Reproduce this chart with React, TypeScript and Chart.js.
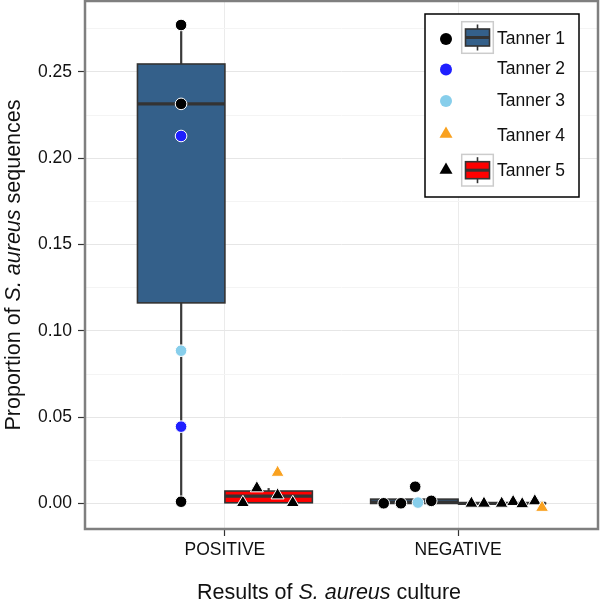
import React, { useEffect, useRef } from "react";
import { Chart, registerables, ScatterController } from "chart.js";

Chart.register(...registerables);
// keep the panel edges where the reference has them (no auto padding for point overflow)
(ScatterController as any).prototype.getMaxOverflow = function () {
  return 0;
};

// ---------- data ----------
const categories = ["POSITIVE", "NEGATIVE"];
const yTickValues = [0, 0.025, 0.05, 0.075, 0.1, 0.125, 0.15, 0.175, 0.2, 0.225, 0.25, 0.275];
const yMajorLabels = ["0.00", "0.05", "0.10", "0.15", "0.20", "0.25"];

const tannerNames = ["Tanner 1", "Tanner 2", "Tanner 3", "Tanner 4", "Tanner 5"];
const tannerColors = ["#000000", "#1f1fff", "#87ceeb", "#f9a11f", "#000000"];
const tannerShapes = ["circle", "circle", "circle", "triangle", "triangle"];

// point positions (x in category units: 1 = POSITIVE, 2 = NEGATIVE, jittered/dodged)
const tanner1X = [0.812, 0.812, 0.812, 1.681, 1.755, 1.816, 1.885];
const tanner1Y = [0.2772, 0.2315, 0.001, 0.0001, 0.0001, 0.0097, 0.0015];
const tanner2X = [0.812, 0.812];
const tanner2Y = [0.2129, 0.0445];
const tanner3X = [0.812, 1.828];
const tanner3Y = [0.0885, 0.0005];
const tanner4X = [1.226, 2.36];
const tanner4Y = [0.0179, -0.0024];
const tanner5X = [1.077, 1.137, 1.226, 1.291, 2.057, 2.111, 2.187, 2.236, 2.275, 2.329];
const tanner5Y = [0.0004, 0.0089, 0.0048, 0.0004, 0.0, 0.0, 0.0, 0.001, -0.0003, 0.0014];

// boxplots
const boxCategory = [0, 0, 1, 1];
const boxGroup = [0, 1, 0, 1]; // 0 -> Tanner 1 fill (left), 1 -> Tanner 5 fill (right)
const boxLow = [0.001, 0.0004, 0.0, 0.0];
const boxQ1 = [0.1162, 0.0004, 0.0, 0.0];
const boxMedian = [0.2315, 0.0042, 0.0008, 0.0001];
const boxQ3 = [0.2546, 0.0072, 0.0025, 0.0002];
const boxHigh = [0.2772, 0.0089, 0.0025, 0.0002];
const boxFills = ["#34608a", "#ff0000"];
const boxLegendTanner = [0, 4];

const FONT = "'Liberation Sans', Arial, Helvetica, sans-serif";
const TEXT = "#111111";

const pointX = [tanner1X, tanner2X, tanner3X, tanner4X, tanner5X];
const pointY = [tanner1Y, tanner2Y, tanner3Y, tanner4Y, tanner5Y];

function drawSymbol(ctx: CanvasRenderingContext2D, shape: string, x: number, y: number, color: string) {
  ctx.save();
  ctx.fillStyle = color;
  ctx.beginPath();
  if (shape === "circle") {
    ctx.arc(x, y, 6, 0, Math.PI * 2);
  } else {
    const r = 7.5;
    let a = 0;
    ctx.moveTo(x + Math.sin(a) * r, y - Math.cos(a) * r);
    a += (2 * Math.PI) / 3;
    ctx.lineTo(x + Math.sin(a) * r, y - Math.cos(a) * r);
    a += (2 * Math.PI) / 3;
    ctx.lineTo(x + Math.sin(a) * r, y - Math.cos(a) * r);
    ctx.closePath();
  }
  ctx.fill();
  ctx.restore();
}

function drawRich(ctx: CanvasRenderingContext2D, parts: [string, boolean][], cx: number, y: number, size: number) {
  let total = 0;
  const widths: number[] = [];
  for (const [t, it] of parts) {
    ctx.font = `${it ? "italic " : ""}${size}px ${FONT}`;
    const w = ctx.measureText(t).width;
    widths.push(w);
    total += w;
  }
  let x = cx - total / 2;
  ctx.textAlign = "left";
  ctx.textBaseline = "alphabetic";
  parts.forEach(([t, it], i) => {
    ctx.font = `${it ? "italic " : ""}${size}px ${FONT}`;
    ctx.fillText(t, x, y);
    x += widths[i];
  });
}

const boxPlugin = {
  id: "boxes",
  beforeDatasetsDraw(chart: any) {
    const { ctx, scales } = chart;
    const xs = scales.x;
    const ys = scales.y;
    ctx.save();
    for (let i = 0; i < boxCategory.length; i++) {
      const pos = boxCategory[i] + 1 + (boxGroup[i] === 0 ? -0.1875 : 0.1875);
      const cx = xs.getPixelForValue(pos);
      const half = xs.getPixelForValue(pos + 0.1875) - cx;
      const yLow = ys.getPixelForValue(boxLow[i]);
      const yQ1 = ys.getPixelForValue(boxQ1[i]);
      const yMed = ys.getPixelForValue(boxMedian[i]);
      const yQ3 = ys.getPixelForValue(boxQ3[i]);
      const yHigh = ys.getPixelForValue(boxHigh[i]);
      ctx.strokeStyle = "#3a3a3a";
      ctx.lineWidth = 2.2;
      ctx.beginPath();
      ctx.moveTo(cx, yQ3);
      ctx.lineTo(cx, yHigh);
      ctx.moveTo(cx, yQ1);
      ctx.lineTo(cx, yLow);
      ctx.stroke();
      ctx.fillStyle = boxFills[boxGroup[i]];
      ctx.fillRect(cx - half, yQ3, half * 2, yQ1 - yQ3);
      ctx.strokeStyle = "#333333";
      ctx.lineWidth = 1.6;
      ctx.strokeRect(cx - half, yQ3, half * 2, yQ1 - yQ3);
      ctx.lineWidth = 3.2;
      ctx.beginPath();
      ctx.moveTo(cx - half, yMed);
      ctx.lineTo(cx + half, yMed);
      ctx.stroke();
    }
    ctx.restore();
  },
};

const decorPlugin = {
  id: "decor",
  afterDraw(chart: any) {
    const { ctx, chartArea } = chart;
    ctx.save();
    ctx.strokeStyle = "#7f7f7f";
    ctx.lineWidth = 2.5;
    ctx.strokeRect(chartArea.left, chartArea.top, chartArea.right - chartArea.left, chartArea.bottom - chartArea.top);

    const lx = 425, ly = 14, lw = 154, lh = 183;
    ctx.fillStyle = "#ffffff";
    ctx.fillRect(lx, ly, lw, lh);
    ctx.strokeStyle = "#000000";
    ctx.lineWidth = 1.5;
    ctx.strokeRect(lx, ly, lw, lh);
    const rowY = [39, 69.5, 101, 134, 170];
    const textY = [39, 69.5, 101, 136, 171];
    tannerNames.forEach((name, i) => {
      drawSymbol(ctx, tannerShapes[i], 446, rowY[i], tannerColors[i]);
      ctx.fillStyle = TEXT;
      ctx.font = `17.5px ${FONT}`;
      ctx.textAlign = "left";
      ctx.textBaseline = "middle";
      ctx.fillText(name, 497, textY[i]);
    });
    boxLegendTanner.forEach((ti, g) => {
      const cx = 477.5;
      const cy = ti === 0 ? 37.5 : 170.2;
      ctx.strokeStyle = "#cccccc";
      ctx.lineWidth = 1.5;
      ctx.strokeRect(cx - 15.8, cy - 15.8, 31.6, 31.6);
      ctx.strokeStyle = "#333333";
      ctx.lineWidth = 1.6;
      ctx.beginPath();
      ctx.moveTo(cx, cy - 13);
      ctx.lineTo(cx, cy + 13);
      ctx.stroke();
      ctx.fillStyle = boxFills[g];
      ctx.fillRect(cx - 12, cy - 8.5, 24, 17);
      ctx.strokeRect(cx - 12, cy - 8.5, 24, 17);
      ctx.lineWidth = 3;
      ctx.beginPath();
      ctx.moveTo(cx - 12, cy);
      ctx.lineTo(cx + 12, cy);
      ctx.stroke();
    });

    ctx.fillStyle = TEXT;
    drawRich(ctx, [["Results of ", false], ["S. aureus", true], [" culture", false]], 329, 599, 21.5);
    ctx.save();
    ctx.translate(20, (chartArea.top + chartArea.bottom) / 2);
    ctx.rotate(-Math.PI / 2);
    drawRich(ctx, [["Proportion of ", false], ["S. aureus", true], [" sequences", false]], 0, 0, 21.5);
    ctx.restore();
    ctx.restore();
  },
};

export default function App() {
  const canvasRef = useRef<HTMLCanvasElement | null>(null);

  useEffect(() => {
    if (!canvasRef.current) return;
    const datasets: any[] = [];
    const order = [3, 2, 1, 0, 4];
    order.forEach((i) => {
      datasets.push({
        type: "scatter",
        label: tannerNames[i],
        data: pointX[i].map((x, k) => ({ x, y: pointY[i][k] })),
        pointStyle: tannerShapes[i],
        pointRadius: tannerShapes[i] === "circle" ? 5.8 : 7.5,
        pointBackgroundColor: tannerColors[i],
        pointBorderColor: "#ffffff",
        pointBorderWidth: 1,
        showLine: false,
      });
    });

    const chart = new Chart(canvasRef.current, {
      type: "scatter",
      data: { datasets },
      options: {
        responsive: false,
        devicePixelRatio: 1,
        animation: false,
        events: [],
        layout: { padding: { top: 1, right: 2, left: 0, bottom: 0 } },
        plugins: { legend: { display: false }, tooltip: { enabled: false } },
        scales: {
          x: {
            type: "linear",
            min: 0.4,
            max: 2.6,
            afterBuildTicks: (scale: any) => {
              scale.ticks = categories.map((_, i) => ({ value: i + 1 }));
            },
            afterFit: (scale: any) => {
              scale.height = 78;
              scale.paddingLeft = 0;
              scale.paddingRight = 0;
            },
            border: { display: false },
            grid: {
              color: "#ebebeb",
              lineWidth: 1,
              tickColor: "#333333",
              tickLength: 7,
              tickWidth: 1.2,
            },
            ticks: {
              autoSkip: false,
              maxRotation: 0,
              padding: 4,
              color: TEXT,
              font: { family: FONT, size: 17.5 },
              callback: (v: any) => categories[Math.round(Number(v)) - 1] ?? "",
            },
          },
          y: {
            type: "linear",
            min: -0.0148,
            max: 0.2911,
            afterBuildTicks: (scale: any) => {
              scale.ticks = yTickValues.map((v) => ({ value: v }));
            },
            afterFit: (scale: any) => {
              scale.width = 85;
              scale.paddingTop = 0;
              scale.paddingBottom = 0;
            },
            border: { display: false },
            grid: {
              color: (c: any) => (c.index % 2 === 0 ? "#e6e6e6" : "#f4f4f4"),
              lineWidth: 1,
              tickColor: (c: any) => (c.index % 2 === 0 ? "#333333" : "rgba(0,0,0,0)"),
              tickLength: 7,
              tickWidth: 1.2,
            },
            ticks: {
              autoSkip: false,
              padding: 6,
              color: TEXT,
              font: { family: FONT, size: 17.5 },
              callback: (_v: any, index: number) => (index % 2 === 0 ? yMajorLabels[index / 2] : ""),
            },
          },
        },
      },
      plugins: [boxPlugin, decorPlugin],
    } as any);

    return () => chart.destroy();
  }, []);

  return (
    <div style={{ position: "absolute", left: 0, top: 0, width: 600, height: 607, background: "#ffffff" }}>
      <canvas ref={canvasRef} width={600} height={607} style={{ display: "block" }} />
    </div>
  );
}
